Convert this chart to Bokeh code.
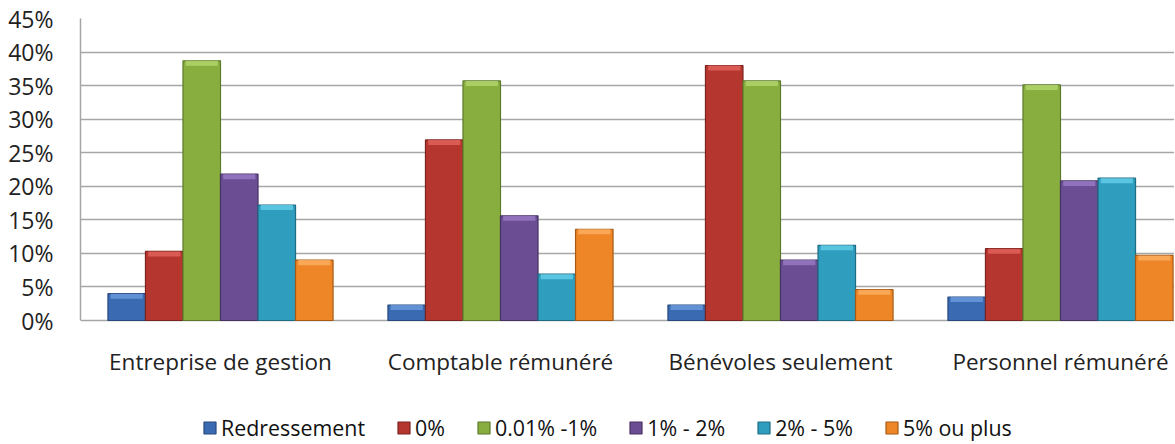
from bokeh.plotting import figure
from bokeh.models import ColumnDataSource, FixedTicker, PrintfTickFormatter, Legend, LegendItem, Range1d
from bokeh.core.properties import value
from bokeh.embed import file_html
from bokeh.resources import INLINE
from bokeh.transform import dodge

categories = ["Entreprise de gestion", "Comptable rémunéré", "Bénévoles seulement", "Personnel rémunéré"]
series = ["Redressement", "0%", "0.01% -1%", "1% - 2%", "2% - 5%", "5% ou plus"]
redressement = [4.0, 2.3, 2.3, 3.5]
zero = [10.3, 26.9, 38.0, 10.7]
p01_1 = [38.7, 35.7, 35.7, 35.1]
p1_2 = [21.8, 15.6, 9.0, 20.8]
p2_5 = [17.2, 6.9, 11.2, 21.2]
p5plus = [9.0, 13.6, 4.6, 9.7]
y_ticks = [0, 5, 10, 15, 20, 25, 30, 35, 40, 45]

values = [redressement, zero, p01_1, p1_2, p2_5, p5plus]
colors = ["#3A6BB2", "#B5362F", "#89AE40", "#6A4D93", "#2E9DBE", "#EE8628"]
edges = ["#27497C", "#7C2320", "#5C782A", "#473262", "#1E6C83", "#A65A15"]
caps = ["#6A98DA", "#E0605B", "#B2D46C", "#9878C2", "#62CCE8", "#FBAE5E"]

xc = [i + 0.5 for i in range(len(categories))]
data = {"x": xc, "base": [0] * len(categories), "cat": categories}
for i, v in enumerate(values):
    data["s%d" % i] = v
    data["c%d" % i] = [t - 0.75 for t in v]
src = ColumnDataSource(data)

frame_w = 1175 - 81
frame_h = 424
ppu = 302 / 45.0
y_start = 45 - frame_h / ppu
p = figure(frame_width=frame_w, frame_height=frame_h, output_backend="svg", toolbar_location=None,
           x_range=Range1d(0, frame_w / 280.0), y_range=Range1d(y_start, 45),
           x_axis_location=None,
           min_border_left=80, min_border_right=0, min_border_top=18, min_border_bottom=0)
p.outline_line_color = None
p.background_fill_color = "white"
p.border_fill_color = "white"

p.xgrid.grid_line_color = None
p.ygrid.grid_line_color = "#A6A6A6"
p.ygrid.grid_line_width = 1.5
p.ygrid.ticker = FixedTicker(ticks=y_ticks)

bw = 0.134
items = []
for i in range(6):
    off = (i - 2.5) * bw
    r = p.vbar(x=dodge("x", off), top="s%d" % i, width=bw, source=src,
               fill_color=colors[i], line_color=edges[i], line_width=1.2)
    p.vbar(x=dodge("x", off), top="s%d" % i, bottom="c%d" % i, width=bw * 0.86, source=src,
           fill_color=caps[i], line_color=None, fill_alpha=0.85)
    items.append(LegendItem(label=series[i], renderers=[r]))

p.text(x="x", y="base", text="cat", source=src, text_align="center", text_baseline="middle",
       y_offset=41, text_font=value("Open Sans"), text_font_size="22.5px", text_color="#222222")

p.yaxis.ticker = FixedTicker(ticks=y_ticks)
p.yaxis.bounds = (0, 45)
p.yaxis.formatter = PrintfTickFormatter(format="%d%%")
p.yaxis.axis_line_color = "#A6A6A6"
p.yaxis.axis_line_width = 1.5
p.yaxis.major_tick_line_color = None
p.yaxis.minor_tick_line_color = None
p.yaxis.major_label_text_font = "Open Sans"
p.yaxis.major_label_text_font_size = "23px"
p.yaxis.major_label_text_color = "#222222"
p.yaxis.major_label_standoff = 21

legend = Legend(items=items, orientation="horizontal", location=(122, 0),
                label_text_font="Open Sans", label_text_font_size="21.4px",
                label_text_color="#111111", glyph_width=15, glyph_height=15,
                spacing=31, label_standoff=4, border_line_color=None,
                background_fill_alpha=0, margin=0, padding=0)
p.add_layout(legend, "center")

open("out.html", "w").write(file_html(p, INLINE))
